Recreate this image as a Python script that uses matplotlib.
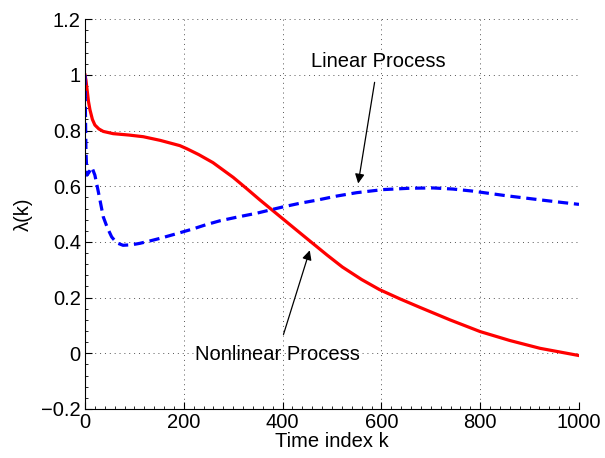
import numpy as np
import matplotlib
matplotlib.use("Agg")
import matplotlib.pyplot as plt
from matplotlib.ticker import MultipleLocator

plt.rcParams['font.family'] = ['Liberation Sans', 'DejaVu Sans']

# nonlinear process (red, solid)
k_nonlin = [0, 2, 4, 7, 10, 15, 20, 28, 37, 57, 89, 118, 152, 192, 206, 230, 259,
            300, 327, 354, 380, 404, 430, 461, 490, 521, 560, 596, 637, 678, 739,
            800, 860, 921, 1000]
lam_nonlin = [1.0, 0.98, 0.95, 0.905, 0.875, 0.84, 0.82, 0.806, 0.797, 0.789, 0.784,
              0.778, 0.765, 0.746, 0.735, 0.714, 0.685, 0.632, 0.592, 0.551, 0.513,
              0.478, 0.44, 0.395, 0.353, 0.31, 0.265, 0.229, 0.196, 0.165, 0.12,
              0.078, 0.046, 0.018, -0.008]

# linear process (blue, dashed)
k_lin = [0, 1, 2, 4, 8, 14, 20, 27, 37, 45, 54, 64, 77, 95, 111, 130, 152, 186, 219,
         245, 273, 310, 347, 375, 401, 435, 469, 510, 550, 603, 658, 705, 745, 783,
         816, 853, 890, 927, 965, 1000]
lam_lin = [1.0, 0.85, 0.72, 0.64, 0.65, 0.668, 0.64, 0.58, 0.49, 0.452, 0.418, 0.397,
           0.388, 0.39, 0.395, 0.403, 0.413, 0.43, 0.447, 0.462, 0.476, 0.49, 0.503,
           0.515, 0.526, 0.539, 0.55, 0.565, 0.577, 0.588, 0.593, 0.594, 0.59, 0.583,
           0.575, 0.566, 0.558, 0.55, 0.542, 0.535]

x_ticks = [0, 200, 400, 600, 800, 1000]
y_ticks = [-0.2, 0, 0.2, 0.4, 0.6, 0.8, 1.0, 1.2]
y_labels = ['\u22120.2', '0', '0.2', '0.4', '0.6', '0.8', '1', '1.2']

fig = plt.figure(figsize=(6.05, 4.58), dpi=100)
ax = fig.add_axes([0.1405, 0.107, 0.8165, 0.851])

ax.plot(k_nonlin, lam_nonlin, color='#ff0000', lw=2.3, solid_joinstyle='round')
ax.plot(k_lin, lam_lin, color='#0000ff', lw=2.3, linestyle=(0, (3.2, 1.8)))

ax.set_xlim(0, 1000)
ax.set_ylim(-0.2, 1.2)
ax.set_xticks(x_ticks)
ax.set_xticklabels([str(v) for v in x_ticks])
ax.set_yticks(y_ticks)
ax.set_yticklabels(y_labels)
ax.xaxis.set_minor_locator(MultipleLocator(20))
ax.yaxis.set_minor_locator(MultipleLocator(0.04))
ax.tick_params(which='major', direction='in', length=5, width=0.8, labelsize=14.5, pad=3)
ax.tick_params(which='minor', direction='in', length=2.5, width=0.6)
ax.tick_params(top=False, right=False)

for s in ['top', 'right']:
    ax.spines[s].set_visible(False)
for s in ['left', 'bottom']:
    ax.spines[s].set_linewidth(0.8)

ax.grid(True, which='major', linestyle=(0, (1, 4)), color='#555555', lw=0.7)

ax.set_xlabel('Time index k', fontsize=14.5, labelpad=0)
ax.set_ylabel('\u03bb(k)', fontsize=14.5, labelpad=6)

ax.annotate('Linear Process', xy=(553, 0.61), xytext=(593, 1.047),
            fontsize=14.5, ha='center', va='center',
            arrowprops=dict(arrowstyle='-|>', color='black', lw=0.9,
                            mutation_scale=14, shrinkA=6, shrinkB=0))
ax.annotate('Nonlinear Process', xy=(455, 0.37), xytext=(389, -0.005),
            fontsize=14.5, ha='center', va='center',
            arrowprops=dict(arrowstyle='-|>', color='black', lw=0.9,
                            mutation_scale=14, shrinkA=6, shrinkB=0))

fig.savefig('out.png', dpi=100)
